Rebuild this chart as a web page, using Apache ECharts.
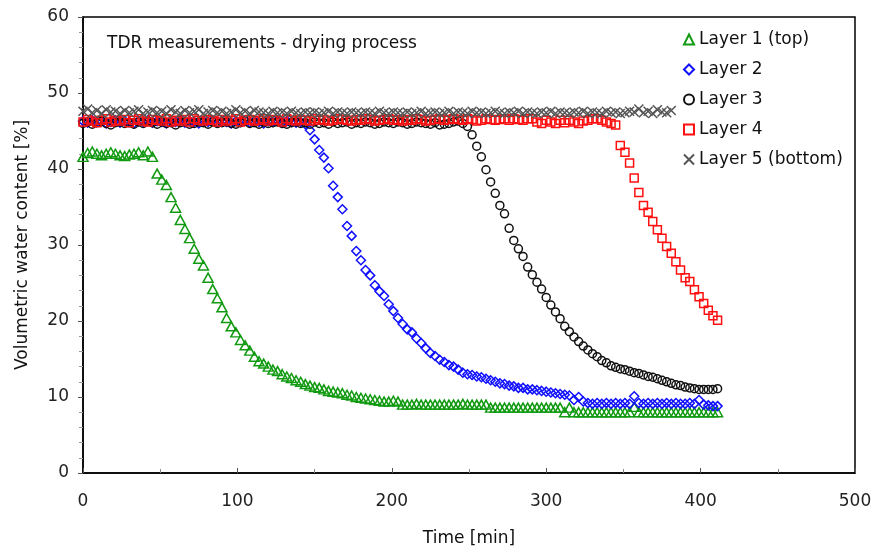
<!DOCTYPE html>
<html>
<head>
<meta charset="utf-8">
<script src="https://cdn.jsdelivr.net/npm/echarts@6/dist/echarts.min.js"></script>
<style>
html,body{margin:0;padding:0;background:#fff;}
#chart{width:876px;height:555px;}
</style>
</head>
<body>
<div id="chart"></div>
<script>
// Sampling times [min]
var times = [
0,3,6,9,12,15,18,21,24,27,
30,33,36,39,42,45,48,51,54,57,
60,63,66,69,72,75,78,81,84,87,
90,93,96,99,102,105,108,111,114,117,
120,123,126,129,132,135,138,141,144,147,
150,153,156,159,162,165,168,171,174,177,
180,183,186,189,192,195,198,201,204,207,
210,213,216,219,222,225,228,231,234,237,
240,243,246,249,252,255,258,261,264,267,
270,273,276,279,282,285,288,291,294,297,
300,303,306,309,312,315,318,321,324,327,
330,333,336,339,342,345,348,351,354,357,
360,363,366,369,372,375,378,381,384,387,
390,393,396,399,402,405,408,411
];

var layer1 = [
41.6,42.1,42.3,42.0,41.8,42.0,42.2,42.0,41.8,41.7,
41.9,42.0,42.2,41.8,42.3,41.6,39.4,38.6,37.9,36.3,
34.9,33.3,32.1,30.9,29.5,28.2,27.3,25.7,24.2,23.0,
21.8,20.4,19.3,18.5,17.5,16.8,16.1,15.3,14.7,14.4,
14.0,13.6,13.4,13.0,12.7,12.5,12.2,12.0,11.7,11.5,
11.3,11.2,11.0,10.8,10.7,10.6,10.5,10.3,10.2,10.0,
9.9,9.8,9.7,9.6,9.5,9.4,9.4,9.5,9.4,9.0,
9.0,9.0,9.1,9.0,9.0,9.0,9.0,9.0,9.0,9.0,
9.0,9.0,9.1,9.0,9.0,9.0,9.0,9.0,8.6,8.6,
8.6,8.6,8.6,8.6,8.6,8.6,8.6,8.6,8.6,8.6,
8.6,8.6,8.6,8.6,8.0,8.6,8.0,8.0,8.0,8.0,
8.0,8.0,8.0,8.0,8.0,8.0,8.0,8.0,8.0,8.7,
8.0,8.0,8.0,8.0,8.0,8.0,8.0,8.0,8.0,8.0,
8.0,8.0,8.0,8.0,8.0,8.0,8.0,8.0
];

var layer2 = [
46.3,46.1,46.4,46.2,46.3,46.0,46.2,46.4,46.1,46.3,
46.2,46.0,46.3,46.2,46.4,46.1,46.3,46.2,46.0,46.3,
46.2,46.4,46.1,46.3,46.2,46.0,46.3,46.2,46.4,46.1,
46.3,46.2,46.0,46.3,46.2,46.4,46.1,46.3,46.2,46.0,
46.3,46.2,46.4,46.1,46.3,46.2,46.1,46.2,45.9,45.1,
43.9,42.5,41.5,40.1,37.8,36.3,34.7,32.5,31.2,29.2,
28.0,26.7,26.0,24.7,23.9,23.3,22.2,21.3,20.4,19.6,
18.9,18.5,17.7,17.1,16.4,15.8,15.4,14.9,14.6,14.2,
14.0,13.6,13.2,13.0,12.9,12.7,12.6,12.4,12.2,12.0,
11.8,11.7,11.5,11.4,11.2,11.2,11.0,11.0,10.9,10.8,
10.7,10.6,10.5,10.4,10.3,10.2,9.6,10.0,9.4,9.2,
9.1,9.2,9.1,9.2,9.1,9.2,9.1,9.2,9.1,10.1,
9.2,9.1,9.2,9.1,9.2,9.1,9.2,9.1,9.2,9.1,
9.1,9.2,9.1,9.6,9.0,8.9,8.8,8.8
];

var layer3 = [
46.0,46.2,45.9,46.1,46.3,46.0,45.8,46.1,46.2,46.0,
46.1,45.9,46.2,46.0,46.3,46.1,45.9,46.2,46.0,46.1,
45.8,46.1,46.2,45.9,46.0,46.2,46.1,45.9,46.2,46.0,
46.1,46.2,46.0,45.9,46.1,46.3,46.0,46.1,45.9,46.2,
46.0,46.1,46.2,46.0,45.9,46.1,46.2,46.0,46.1,45.9,
46.2,46.0,46.1,45.9,46.2,46.0,46.1,46.2,45.9,46.1,
46.0,46.2,46.1,45.9,46.0,46.2,46.1,46.0,46.2,46.1,
45.9,46.0,46.2,46.1,46.0,45.9,46.1,45.8,45.9,46.0,
46.2,46.3,46.0,45.6,44.5,43.0,41.6,39.9,38.3,36.8,
35.2,34.1,32.2,30.6,29.5,28.5,27.1,26.1,25.1,24.2,
23.1,22.1,21.2,20.3,19.3,18.6,17.9,17.3,16.7,16.2,
15.7,15.3,14.8,14.5,14.1,13.9,13.7,13.6,13.4,13.2,
13.1,12.9,12.7,12.6,12.4,12.2,12.0,11.8,11.6,11.5,
11.3,11.2,11.1,11.0,11.0,11.0,11.0,11.1
];

var layer4 = [
46.2,46.5,46.3,46.1,46.4,46.6,46.2,46.4,46.3,46.5,
46.1,46.4,46.6,46.3,46.2,46.5,46.4,46.3,46.6,46.2,
46.4,46.3,46.5,46.2,46.6,46.4,46.3,46.5,46.4,46.2,
46.5,46.3,46.4,46.6,46.2,46.4,46.5,46.3,46.4,46.6,
46.3,46.5,46.4,46.2,46.6,46.4,46.3,46.5,46.4,46.3,
46.6,46.4,46.5,46.3,46.4,46.6,46.5,46.4,46.3,46.5,
46.4,46.6,46.5,46.3,46.4,46.5,46.6,46.4,46.5,46.3,
46.5,46.4,46.6,46.5,46.3,46.4,46.5,46.6,46.4,46.5,
46.6,46.5,46.4,46.6,46.5,46.3,46.4,46.6,46.5,46.4,
46.5,46.6,46.4,46.6,46.5,46.4,46.6,46.6,46.2,46.0,
46.4,46.2,46.0,46.4,46.1,46.4,46.2,46.0,46.3,46.4,
46.6,46.6,46.4,46.2,46.0,45.8,43.1,42.2,40.8,38.8,
36.9,35.2,34.3,33.1,32.0,30.9,29.8,28.9,27.8,26.7,
25.7,25.2,24.1,23.2,22.3,21.4,20.7,20.1
];

var layer5 = [
47.6,47.9,47.4,47.7,47.3,47.8,47.5,47.6,47.3,47.7,
47.4,47.6,47.8,47.3,47.5,47.7,47.4,47.6,47.3,47.8,
47.5,47.3,47.7,47.4,47.6,47.8,47.3,47.5,47.7,47.4,
47.6,47.3,47.5,47.8,47.4,47.6,47.3,47.7,47.5,47.4,
47.3,47.6,47.4,47.5,47.3,47.6,47.4,47.3,47.5,47.4,
47.5,47.3,47.4,47.6,47.3,47.5,47.4,47.3,47.5,47.4,
47.3,47.5,47.4,47.3,47.6,47.4,47.3,47.5,47.4,47.3,
47.5,47.3,47.4,47.6,47.3,47.4,47.5,47.3,47.4,47.6,
47.3,47.5,47.4,47.3,47.6,47.4,47.5,47.3,47.4,47.6,
47.4,47.3,47.5,47.4,47.6,47.3,47.5,47.4,47.3,47.5,
47.4,47.6,47.3,47.5,47.4,47.3,47.5,47.4,47.6,47.3,
47.5,47.4,47.3,47.6,47.4,47.5,47.3,47.4,47.6,47.5,
47.9,47.4,47.6,47.3,47.8,47.5,47.4,47.7,null,null,
null,null,null,null,null,null,null,null
];

var seriesNames = ['Layer 1 (top)', 'Layer 2', 'Layer 3', 'Layer 4', 'Layer 5 (bottom)'];
var xTicks = [0, 100, 200, 300, 400, 500];
var yTicks = [0, 10, 20, 30, 40, 50, 60];
var chartTitle = 'TDR measurements - drying process';
var xName = 'Time [min]';
var yName = 'Volumetric water content [%]';

function pairs(vals) {
  var out = [];
  for (var i = 0; i < times.length; i++) {
    if (vals[i] !== null && vals[i] !== undefined) out.push([times[i], vals[i]]);
  }
  return out;
}

var FONT = 'DejaVu Sans, Verdana, sans-serif';
var FS = 17;
var styles = [
  {symbol: 'triangle', size: [10, 9], color: '#119a11'},
  {symbol: 'diamond', size: [9, 9], color: '#1010ff'},
  {symbol: 'circle', size: 8, color: '#111111'},
  {symbol: 'rect', size: 8, color: '#ff1010'},
  {symbol: 'path://M0,0L10,10M10,0L0,10', size: 9, color: '#555555'}
];
var allData = [layer1, layer2, layer3, layer4, layer5];

var series = seriesNames.map(function (name, k) {
  var s = styles[k];
  return {
    name: name,
    type: 'scatter',
    data: pairs(allData[k]),
    symbol: s.symbol,
    symbolSize: s.size,
    z: 2 + k,
    itemStyle: {color: 'rgba(0,0,0,0)', borderColor: s.color, borderWidth: 1.5, opacity: 1},
    emphasis: {disabled: true}
  };
});

var chart = echarts.init(document.getElementById('chart'), null, {renderer: 'canvas'});
chart.setOption({
  animation: false,
  backgroundColor: '#ffffff',
  title: {
    text: chartTitle,
    left: 107, top: 35, padding: 0,
    textStyle: {fontFamily: FONT, fontSize: FS, fontWeight: 'normal', color: '#111'}
  },
  legend: {
    data: seriesNames.map(function (n, k) {
      return {name: n, icon: styles[k].symbol};
    }),
    orient: 'vertical',
    left: 683, top: 31, padding: 0,
    itemWidth: 10, itemHeight: 10,
    itemGap: 13,
    textStyle: {fontFamily: FONT, fontSize: FS, color: '#111'}
  },
  grid: {
    left: 83, right: 21, top: 17, bottom: 82,
    show: true, borderColor: '#000', borderWidth: 1.5, backgroundColor: 'transparent'
  },
  xAxis: {
    type: 'value', min: 0, max: 500, interval: 100,
    name: xName, nameLocation: 'middle', nameGap: 57,
    nameTextStyle: {fontFamily: FONT, fontSize: FS, color: '#111'},
    axisLine: {show: true, lineStyle: {color: '#000', width: 1.5}},
    axisTick: {show: true, inside: true, length: 5, lineStyle: {color: '#555'}},
    minorTick: {show: true, splitNumber: 2, length: 4, lineStyle: {color: '#888'}},
    splitLine: {show: false},
    axisLabel: {fontFamily: FONT, fontSize: FS, color: '#222', margin: 20,
      formatter: function (v) { return xTicks.indexOf(v) >= 0 ? String(v) : ''; }}
  },
  yAxis: {
    type: 'value', min: 0, max: 60, interval: 10,
    name: yName, nameLocation: 'middle', nameGap: 52,
    nameTextStyle: {fontFamily: FONT, fontSize: FS, color: '#111'},
    axisLine: {show: true, lineStyle: {color: '#000', width: 1.5}},
    axisTick: {show: true, inside: false, length: 5, lineStyle: {color: '#555'}},
    minorTick: {show: true, splitNumber: 5, length: 4, lineStyle: {color: '#999'}},
    splitLine: {show: false},
    axisLabel: {fontFamily: FONT, fontSize: FS, color: '#222', margin: 14,
      formatter: function (v) { return yTicks.indexOf(v) >= 0 ? String(v) : ''; }}
  },
  series: series
});
</script>
</body>
</html>
